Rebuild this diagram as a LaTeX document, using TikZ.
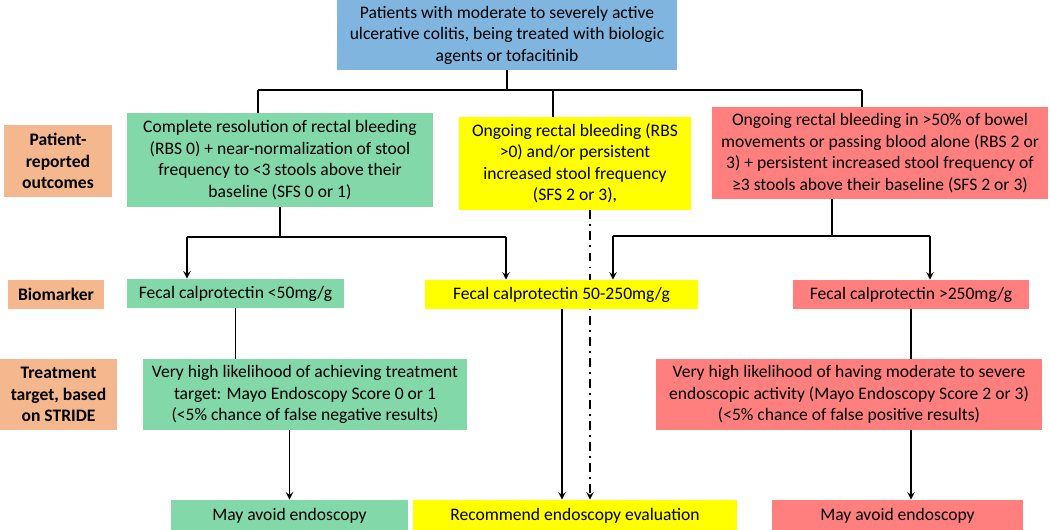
\documentclass[tikz,border=0pt]{standalone}
\usepackage{fontspec}
\setmainfont{Carlito}
\usetikzlibrary{backgrounds}
\definecolor{topblue}{HTML}{80B5DF}
\definecolor{lowgreen}{HTML}{82D8A8}
\definecolor{midyellow}{HTML}{FFFF00}
\definecolor{highred}{HTML}{FF7F7F}
\definecolor{rowpeach}{HTML}{F5B78E}
\tikzset{
  box/.style={inner sep=1pt, align=center, font=\fontsize{10}{12.2}\selectfont},
  rowlabel/.style={box, fill=rowpeach, font=\fontsize{10}{12.2}\selectfont\bfseries},
  link/.style={line width=0.9pt},
  arrowlink/.style={line width=0.9pt, -stealth},
  dashdotlink/.style={line width=0.9pt, -stealth, dash pattern=on 5pt off 3pt on 1pt off 3pt}
}
\begin{document}
\begin{tikzpicture}[x=0.02cm, y=-0.02cm]
		\useasboundingbox (0,0) rectangle (1050,530);
		\node[box, fill=topblue, minimum width=6.8cm, minimum height=1.4cm] (top) at (507,35) {Patients with moderate to severely active\\ulcerative colitis, being treated with biologic\\agents or tofacitinib};
		\node[rowlabel, minimum width=2.18cm, minimum height=1.44cm] (lab1) at (58,161) {Patient-\\reported\\outcomes};
		\node[rowlabel, minimum width=1.94cm, minimum height=0.58cm] (lab2) at (56,294.5) {Biomarker};
		\node[rowlabel, minimum width=2.34cm, minimum height=1.42cm] (lab3) at (58.5,394.5) {Treatment\\target, based\\on STRIDE};
		\node[box, fill=lowgreen, minimum width=6.14cm, minimum height=1.88cm] (g1) at (280,160) {Complete resolution of rectal bleeding\\(RBS 0) + near-normalization of stool\\frequency to <3 stools above their\\baseline (SFS 0 or 1)};
		\node[box, fill=midyellow, minimum width=4.64cm, minimum height=1.86cm] (y1) at (575,163.5) {Ongoing rectal bleeding (RBS\\>0) and/or persistent\\increased stool frequency\\(SFS 2 or 3),};
		\node[box, fill=highred, minimum width=6.72cm, minimum height=1.84cm] (r1) at (880,153) {Ongoing rectal bleeding in >50\% of bowel\\movements or passing blood alone (RBS 2 or\\3) + persistent increased stool frequency of\\≥3 stools above their baseline (SFS 2 or 3)};
		\node[box, fill=lowgreen, minimum width=4.34cm, minimum height=0.58cm] (g2) at (235.5,293.5) {Fecal calprotectin <50mg/g};
		\node[box, fill=midyellow, minimum width=5.46cm, minimum height=0.58cm] (y2) at (561.5,294.5) {Fecal calprotectin 50-250mg/g};
		\node[box, fill=highred, minimum width=4.72cm, minimum height=0.58cm] (r2) at (911,294.5) {Fecal calprotectin >250mg/g};
		\node[box, fill=lowgreen, minimum width=6.48cm, minimum height=1.42cm] (g3) at (305,394.5) {Very high likelihood of achieving treatment\\target: Mayo Endoscopy Score 0 or 1\\(<5\% chance of false negative results)};
		\node[box, fill=highred, minimum width=7.72cm, minimum height=1.42cm] (r3) at (849,394.5) {Very high likelihood of having moderate to severe\\endoscopic activity (Mayo Endoscopy Score 2 or 3)\\(<5\% chance of false positive results)};
		\node[box, fill=lowgreen, minimum width=4.74cm, minimum height=0.62cm] (g4) at (289.5,515.5) {May avoid endoscopy};
		\node[box, fill=midyellow, minimum width=6.5cm, minimum height=0.62cm] (y4) at (575,515.5) {Recommend endoscopy evaluation};
		\node[box, fill=highred, minimum width=5.02cm, minimum height=0.62cm] (r4) at (897.5,515.5) {May avoid endoscopy};
		\coordinate (busL) at (258,90);
		\coordinate (busM) at (553,90);
		\coordinate (busR) at (862,90);
		\coordinate (gL) at (187,237);
		\coordinate (gR) at (506,237);
		\coordinate (rM) at (832,236);
		\coordinate (rL) at (613,236);
		\coordinate (rR) at (930,236);
		\coordinate (ydash) at (590,0);
		\coordinate (ysolid) at (562,0);
		\begin{scope}[on background layer]
		\draw[link] (top.south) -- (top.south |- busL);
		\draw[link] (busL) -- (busR);
		\draw[link] (busL) -- (busL |- g1.north);
		\draw[link] (busM) -- (busM |- y1.north);
		\draw[link] (busR) -- (busR |- r1.north);
		\draw[link] (g1.south) -- (g1.south |- gL);
		\draw[link] (gL) -- (gR);
		\draw[arrowlink] (gL) -- (gL |- g2.north);
		\draw[arrowlink] (gR) -- (gR |- y2.north);
		\draw[link] (rM |- r1.south) -- (rM);
		\draw[link] (rL) -- (rR);
		\draw[arrowlink] (rL) -- (rL |- y2.north);
		\draw[arrowlink] (rR) -- (rR |- r2.north);
		\draw[dashdotlink] (ydash |- y1.south) -- (ydash |- y4.north);
		\draw[arrowlink] (ysolid |- y2.south) -- (ysolid |- y4.north);
		\draw[link] (g2.south) -- (g2.south |- g3.north);
		\draw[arrowlink] (g4.north |- g3.south) -- (g4.north);
		\draw[link] (r2.south) -- (r2.south |- r3.north);
		\draw[arrowlink] (r2.south |- r3.south) -- (r2.south |- r4.north);
		\end{scope}
	    \end{tikzpicture}
\end{document}
